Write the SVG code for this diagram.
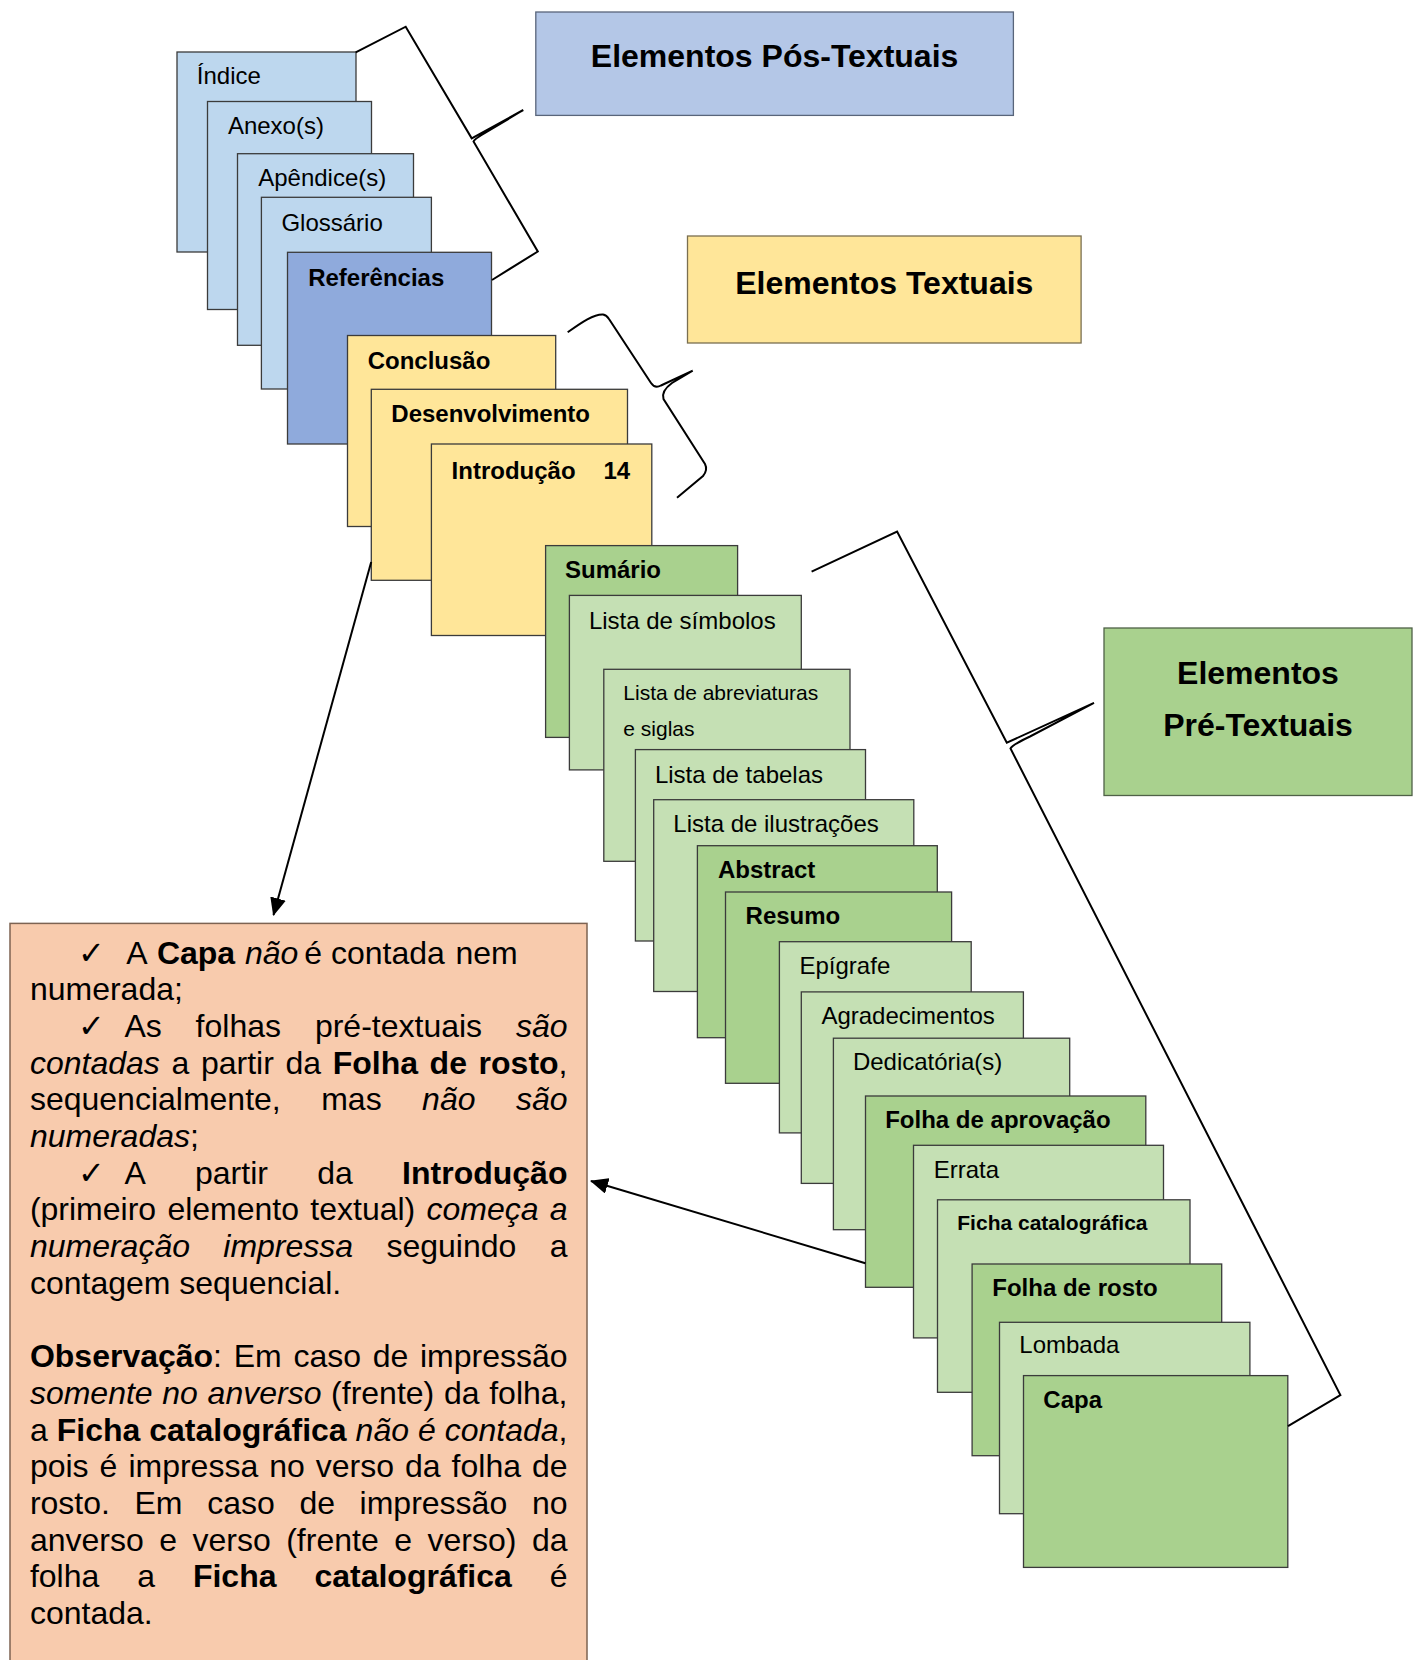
<svg xmlns="http://www.w3.org/2000/svg" width="1421" height="1660" viewBox="0 0 1421 1660">
<style>
.box{stroke:#3b3b3b;stroke-width:1.3}
.lb{fill:#bdd7ee}.mb{fill:#8faadc}.y{fill:#ffe699}.dg{fill:#a9d18e}.lg{fill:#c5e0b4}
.t{font-family:"Liberation Sans",Arial,sans-serif;font-size:24px;fill:#000}
.b{font-weight:bold}
.s{font-size:21px}
.h{font-size:32px;font-weight:bold;text-anchor:middle}
.n{font-size:32px}
.i{font-style:italic}
.ck{font-family:"DejaVu Sans",sans-serif;font-size:32px}
.br{fill:none;stroke:#000;stroke-width:2;stroke-linejoin:miter}
.ar{fill:none;stroke:#000;stroke-width:2}
</style>
<defs>
<marker id="ah" markerWidth="18" markerHeight="16" viewBox="0 0 18 16" refX="17" refY="8" orient="auto" markerUnits="userSpaceOnUse"><path d="M0,0 L18,8 L0,16 Z" fill="#000"/></marker>
</defs>
<rect width="1421" height="1660" fill="#fff"/>

<g id="label-pos"><rect x="535.8" y="12" width="477.6" height="103.4" fill="#b4c7e7" stroke="#59657a" stroke-width="1.3"/><text class="t h" x="774.6" y="67">Elementos Pós-Textuais</text></g>
<g id="label-textuais"><rect x="687.5" y="236" width="393.6" height="107" fill="#ffe699" stroke="#7a6f50" stroke-width="1.3"/><text class="t h" x="884.3" y="294">Elementos Textuais</text></g>
<g id="label-pre"><rect x="1104" y="628" width="308" height="167.5" fill="#a9d18e" stroke="#4f6147" stroke-width="1.3"/><text class="t h" x="1258" y="684">Elementos</text><text class="t h" x="1258" y="736">Pré-Textuais</text></g>

<g id="indice"><rect class="box lb" x="177" y="52" width="179" height="200"/><text class="t" x="196.8" y="84">Índice</text></g>
<g id="anexos"><rect class="box lb" x="207.5" y="101.5" width="164" height="208"/><text class="t" x="227.9" y="134">Anexo(s)</text></g>
<g id="apendices"><rect class="box lb" x="237.5" y="153.7" width="176" height="191.6"/><text class="t" x="258.2" y="185.5">Apêndice(s)</text></g>
<g id="glossario"><rect class="box lb" x="261.4" y="197.3" width="170" height="191.7"/><text class="t" x="281.4" y="230.5">Glossário</text></g>
<g id="referencias"><rect class="box mb" x="287.5" y="252.3" width="204" height="191.7"/><text class="t b" x="308.2" y="285.5">Referências</text></g>
<g id="conclusao"><rect class="box y" x="347.5" y="335.5" width="208.2" height="191"/><text class="t b" x="367.7" y="368.8">Conclusão</text></g>
<g id="desenvolvimento"><rect class="box y" x="371.3" y="389.3" width="256.2" height="191"/><text class="t b" x="391.3" y="422.2">Desenvolvimento</text></g>
<g id="introducao"><rect class="box y" x="431.4" y="444" width="220.4" height="191.5"/><text class="t b" x="451.6" y="478.8">Introdução</text><text class="t b" x="603.4" y="478.8">14</text></g>
<g id="sumario"><rect class="box dg" x="545.6" y="545.6" width="192" height="191.8"/><text class="t b" x="565" y="578">Sumário</text></g>
<g id="lista-simbolos"><rect class="box lg" x="569.4" y="595.4" width="231.9" height="174.5"/><text class="t" x="588.9" y="628.8">Lista de símbolos</text></g>
<g id="lista-abreviaturas"><rect class="box lg" x="603.8" y="669.3" width="246.2" height="192"/><text class="t s" x="623.3" y="700.3">Lista de abreviaturas</text><text class="t s" x="623.3" y="735.9">e siglas</text></g>
<g id="lista-tabelas"><rect class="box lg" x="635.4" y="749.6" width="230.1" height="191.4"/><text class="t" x="654.9" y="782.6">Lista de tabelas</text></g>
<g id="lista-ilustracoes"><rect class="box lg" x="653.7" y="799.7" width="260.1" height="191.8"/><text class="t" x="673.3" y="832.4">Lista de ilustrações</text></g>
<g id="abstract"><rect class="box dg" x="697.4" y="845.7" width="239.9" height="192"/><text class="t b" x="718" y="878.3">Abstract</text></g>
<g id="resumo"><rect class="box dg" x="725.5" y="892" width="226.1" height="191.3"/><text class="t b" x="745.6" y="924.2">Resumo</text></g>
<g id="epigrafe"><rect class="box lg" x="779.4" y="941.7" width="191.8" height="191.2"/><text class="t" x="799.5" y="974">Epígrafe</text></g>
<g id="agradecimentos"><rect class="box lg" x="801.3" y="991.9" width="222.1" height="191.5"/><text class="t" x="821.4" y="1023.8">Agradecimentos</text></g>
<g id="dedicatorias"><rect class="box lg" x="833.4" y="1038.2" width="236.3" height="191.5"/><text class="t" x="852.9" y="1069.8">Dedicatória(s)</text></g>
<g id="folha-aprovacao"><rect class="box dg" x="865.5" y="1096" width="280.3" height="191.3"/><text class="t b" x="885.2" y="1128.3">Folha de aprovação</text></g>
<g id="errata"><rect class="box lg" x="913.5" y="1145.3" width="250" height="192.6"/><text class="t" x="933.7" y="1178.1">Errata</text></g>
<g id="ficha-catalografica"><rect class="box lg" x="937.5" y="1199.8" width="252.5" height="192.5"/><text class="t s b" x="957.3" y="1230.2">Ficha catalográfica</text></g>
<g id="folha-rosto"><rect class="box dg" x="972.1" y="1264" width="249.6" height="191.7"/><text class="t b" x="992.3" y="1296.3">Folha de rosto</text></g>
<g id="lombada"><rect class="box lg" x="999.5" y="1322.3" width="250.4" height="191.4"/><text class="t" x="1019.3" y="1353.1">Lombada</text></g>
<g id="capa"><rect class="box dg" x="1023.5" y="1375.6" width="264.3" height="191.8"/><text class="t b" x="1043.3" y="1407.6">Capa</text></g>

<g id="nota">
<rect x="10" y="923.4" width="577" height="760" fill="#f8cbad" stroke="#7d6352" stroke-width="1.5"/>
<text class="ck" x="78" y="963.5">✓</text>
<text class="t n" y="963.5"><tspan x="126.3">A</tspan><tspan class="b" x="156.9">Capa</tspan><tspan class="i" x="244.9">não</tspan><tspan x="304.2">é</tspan><tspan x="331">contada</tspan><tspan x="455.4">nem</tspan></text>
<text class="t n" x="29.9" y="1000.2">numerada;</text>
<text class="ck" x="78" y="1036.9">✓</text>
<text class="t n" y="1036.9"><tspan x="124.4">As</tspan><tspan x="195.6">folhas</tspan><tspan x="314.9">pré-textuais</tspan><tspan class="i" x="516">são</tspan></text>
<text class="t n" y="1073.6"><tspan class="i" x="29.9">contadas</tspan><tspan x="171.4">a</tspan><tspan x="200.9">partir</tspan><tspan x="285.4">da</tspan><tspan class="b" x="332.7">Folha</tspan><tspan class="b" x="429.6">de</tspan><tspan class="b" x="478.6">rosto</tspan><tspan x="558.6">,</tspan></text>
<text class="t n" y="1110.3"><tspan x="29.9">sequencialmente,</tspan><tspan x="321.2">mas</tspan><tspan class="i" x="422.1">não</tspan><tspan class="i" x="516">são</tspan></text>
<text class="t n" y="1147"><tspan class="i" x="29.9">numeradas</tspan><tspan>;</tspan></text>
<text class="ck" x="78" y="1183.7">✓</text>
<text class="t n" y="1183.7"><tspan x="124.4">A</tspan><tspan x="195">partir</tspan><tspan x="317.2">da</tspan><tspan class="b" x="402.1">Introdução</tspan></text>
<text class="t n" y="1220.4"><tspan x="29.9">(primeiro</tspan><tspan x="167.4">elemento</tspan><tspan x="310.3">textual)</tspan><tspan class="i" x="426.5">começa</tspan><tspan class="i" x="549.8">a</tspan></text>
<text class="t n" y="1257.1"><tspan class="i" x="29.9">numeração</tspan><tspan class="i" x="223.3">impressa</tspan><tspan x="386.4">seguindo</tspan><tspan x="549.7">a</tspan></text>
<text class="t n" x="29.9" y="1293.8">contagem sequencial.</text>
<text class="t n" y="1367.2"><tspan class="b" x="29.9">Observação</tspan><tspan>:</tspan><tspan x="233.7">Em</tspan><tspan x="293.4">caso</tspan><tspan x="372.7">de</tspan><tspan x="420">impressão</tspan></text>
<text class="t n" y="1403.9"><tspan class="i" x="29.9">somente</tspan><tspan class="i" x="162.3">no</tspan><tspan class="i" x="207.6">anverso</tspan><tspan x="331.1">(frente)</tspan><tspan x="443.9">da</tspan><tspan x="489.2">folha,</tspan></text>
<text class="t n" y="1440.6"><tspan x="29.9">a</tspan><tspan class="b" x="56.7">Ficha</tspan><tspan class="b" x="149.2">catalográfica</tspan><tspan class="i" x="355.6">não</tspan><tspan class="i" x="418">é</tspan><tspan class="i" x="444.7">contada</tspan><tspan x="558.6">,</tspan></text>
<text class="t n" y="1477.3"><tspan x="29.9">pois</tspan><tspan x="99.6">é</tspan><tspan x="128.4">impressa</tspan><tspan x="269.2">no</tspan><tspan x="315.8">verso</tspan><tspan x="405">da</tspan><tspan x="451.6">folha</tspan><tspan x="532">de</tspan></text>
<text class="t n" y="1514"><tspan x="29.9">rosto.</tspan><tspan x="134.5">Em</tspan><tspan x="207.2">caso</tspan><tspan x="299.4">de</tspan><tspan x="359.6">impressão</tspan><tspan x="531.9">no</tspan></text>
<text class="t n" y="1550.7"><tspan x="29.9">anverso</tspan><tspan x="159.2">e</tspan><tspan x="192.5">verso</tspan><tspan x="286.2">(frente</tspan><tspan x="394.2">e</tspan><tspan x="427.5">verso)</tspan><tspan x="531.9">da</tspan></text>
<text class="t n" y="1587.4"><tspan x="29.9">folha</tspan><tspan x="137.2">a</tspan><tspan class="b" x="192.9">Ficha</tspan><tspan class="b" x="314.4">catalográfica</tspan><tspan x="549.7">é</tspan></text>
<text class="t n" x="29.9" y="1624.1">contada.</text>
</g>

<g id="connectors">
<path class="br" d="M355.7,52.3 L405.7,26.7 L471.7,138.3 L523.3,110 M523.3,110 L485,133 Q474.5,139 473.5,141.5 L537.8,251.5 L492,280"/>
<path class="br" d="M567.7,332.3 C582,322 594,314 603,314.5 Q606.5,315 609,319 L651,383 Q655,389 661,385.5 L692.7,370.7 M692.7,370.7 L672,383 Q661,391 663.5,399 L705,464 Q708,470 703,476 L677,497.7"/>
<path class="br" d="M811.6,571.7 L897.1,531.5 L1006.8,742.7 L1094,702.9 M1094,702.9 L1030,736.5 Q1012,745 1010.5,748.5 L1340.4,1395 L1288,1426.2"/>
<line class="ar" x1="371.2" y1="562" x2="273.5" y2="915" marker-end="url(#ah)"/>
<line class="ar" x1="865.4" y1="1263.2" x2="591" y2="1181" marker-end="url(#ah)"/>
</g>
</svg>
